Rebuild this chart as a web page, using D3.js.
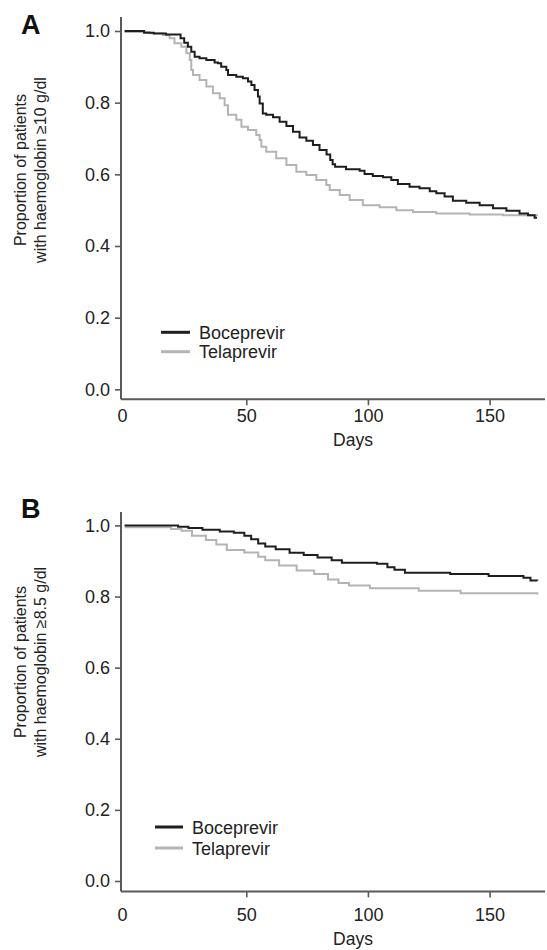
<!DOCTYPE html>
<html>
<head>
<meta charset="utf-8">
<script src="https://cdn.jsdelivr.net/npm/d3@7"></script>
<style>
  html, body { margin: 0; padding: 0; background: #fff; }
  svg { display: block; }
  text { font-family: "Liberation Sans", Arial, Helvetica, sans-serif; fill: #222; }
</style>
</head>
<body>
<svg id="chart" width="547" height="950"></svg>
<script>
// ---------- DATA ----------
const seriesNames = ["Boceprevir", "Telaprevir"];
const xTicks = [0, 50, 100, 150];
const yTicks = [0.0, 0.2, 0.4, 0.6, 0.8, 1.0];
const panelLabels = ["A", "B"];
const yTitlesLine1 = ["Proportion of patients", "Proportion of patients"];
const yTitlesLine2 = ["with haemoglobin \u226510 g/dl", "with haemoglobin \u22658.5 g/dl"];
const xTitle = "Days";

// Panel A: haemoglobin >= 10 g/dl
const daysA_boc = [0, 8, 12, 17, 23, 24.5, 26, 27.4, 28.8, 30.8, 33.6, 37, 38.4, 39.7, 41.8, 42.5, 45.9, 48.6, 50.7, 52.1, 53.4, 54.8, 55.5, 56.8, 58.2, 61, 63.7, 66.5, 69.2, 71.9, 74.7, 77.4, 80.1, 83, 84.5, 85.5, 86.5, 91, 96.6, 98.6, 102, 106.2, 109.6, 112.3, 117.1, 121.2, 125.4, 128.1, 131.5, 134.9, 140.4, 145.9, 151.4, 156.9, 162.3, 165.8, 168.5, 169.5];
const survA_boc = [1.0, 0.995, 0.993, 0.990, 0.980, 0.967, 0.956, 0.942, 0.928, 0.924, 0.919, 0.912, 0.910, 0.900, 0.891, 0.877, 0.872, 0.868, 0.859, 0.849, 0.835, 0.817, 0.798, 0.770, 0.766, 0.759, 0.747, 0.735, 0.719, 0.703, 0.694, 0.682, 0.668, 0.655, 0.640, 0.628, 0.621, 0.614, 0.610, 0.601, 0.595, 0.592, 0.584, 0.573, 0.565, 0.561, 0.553, 0.547, 0.538, 0.526, 0.521, 0.514, 0.505, 0.498, 0.491, 0.486, 0.479, 0.479];
const daysA_tel = [0, 10.3, 15.7, 18.5, 20.5, 23.3, 25.4, 26.8, 27.4, 28.1, 30.8, 33.6, 36.3, 39.1, 41.1, 42.5, 45.9, 48, 50.7, 54.1, 55.5, 56.2, 58.2, 62.3, 66.5, 70.6, 74.7, 78.8, 82.9, 84.3, 88.4, 92.5, 97.9, 104.8, 111.7, 118.5, 128.1, 141.8, 155.5, 169.5];
const survA_tel = [0.997, 0.994, 0.989, 0.980, 0.966, 0.956, 0.938, 0.919, 0.891, 0.877, 0.863, 0.845, 0.826, 0.812, 0.793, 0.766, 0.752, 0.733, 0.724, 0.710, 0.696, 0.677, 0.663, 0.645, 0.626, 0.607, 0.598, 0.584, 0.570, 0.556, 0.542, 0.528, 0.514, 0.508, 0.500, 0.495, 0.491, 0.488, 0.486, 0.484];

// Panel B: haemoglobin >= 8.5 g/dl
const daysB_boc = [0, 22, 26.2, 32, 39.1, 44.9, 49.2, 52, 54.9, 57.8, 62.1, 67.8, 73.6, 79.3, 85.1, 89.3, 103.7, 108, 110.9, 115.2, 133.8, 149.6, 163.9, 166.8, 169.6];
const survB_boc = [1.0, 0.996, 0.993, 0.988, 0.983, 0.979, 0.971, 0.961, 0.949, 0.941, 0.933, 0.923, 0.917, 0.910, 0.902, 0.895, 0.892, 0.882, 0.875, 0.867, 0.863, 0.858, 0.853, 0.845, 0.844];
const daysB_tel = [0, 19.1, 23.4, 27.7, 33.4, 37.7, 42, 49.2, 54.9, 57.8, 63.5, 70.7, 77.9, 83.6, 87.9, 92.2, 100.8, 120.9, 138.1, 169.6];
const survB_tel = [0.995, 0.990, 0.985, 0.971, 0.959, 0.946, 0.931, 0.924, 0.912, 0.902, 0.887, 0.873, 0.863, 0.848, 0.838, 0.831, 0.823, 0.816, 0.809, 0.806];

// ---------- LAYOUT / STYLE ----------
const colors = ["#1e1e1e", "#b4b4b4"];
const axisColor = "#5a5a5a";
const fontTick = 18, fontTitle = 16, fontLegend = 18, fontPanel = 27, fontDays = 17.5;

const panels = [
  { label: panelLabels[0], t1: yTitlesLine1[0], t2: yTitlesLine2[0],
    series: [[daysA_boc, survA_boc], [daysA_tel, survA_tel]],
    yTop: 31, yZero: 389.3, axisTop: 17, xAxisY: 399.3,
    xLabY: 422.5, daysY: 446, letterY: 34, titleC: 170,
    legY: [332.3, 351.7], legX0: 161, legX1: 190, legTX: 199 },
  { label: panelLabels[1], t1: yTitlesLine1[1], t2: yTitlesLine2[1],
    series: [[daysB_boc, survB_boc], [daysB_tel, survB_tel]],
    yTop: 525.4, yZero: 881, axisTop: 512, xAxisY: 891.4,
    xLabY: 921, daysY: 945, letterY: 518, titleC: 662,
    legY: [827, 848], legX0: 155, legX1: 183, legTX: 192 }
];

const svg = d3.select("#chart");
const xAxisX = 121, xRight = 545;
const x = d3.scaleLinear().domain([0, 150]).range([124.6, 489.6]);

panels.forEach(p => {
  const y = d3.scaleLinear().domain([0, 1]).range([p.yZero, p.yTop]);
  const g = svg.append("g");

  // panel letter
  g.append("text").attr("x", 21).attr("y", p.letterY)
    .attr("font-size", fontPanel).attr("font-weight", "bold").style("fill", "#111")
    .text(p.label);

  // y axis title
  const tg = g.append("g").attr("transform", `translate(0,${p.titleC}) rotate(-90)`);
  tg.append("text").attr("x", 0).attr("y", 26).attr("text-anchor", "middle")
    .attr("font-size", fontTitle).text(p.t1);
  tg.append("text").attr("x", 0).attr("y", 46).attr("text-anchor", "middle")
    .attr("font-size", fontTitle).text(p.t2);

  // y axis
  const ya = g.append("g").attr("transform", `translate(${xAxisX},0)`)
    .call(d3.axisLeft(y).tickValues(yTicks).tickFormat(d3.format(".1f")).tickSize(6).tickPadding(5));
  ya.select(".domain").remove();
  ya.selectAll(".tick line").attr("stroke", axisColor).attr("stroke-width", 1.6);
  ya.selectAll(".tick text").attr("font-size", fontTick).attr("font-family", null).style("fill", "#222");
  g.append("line").attr("x1", xAxisX).attr("x2", xAxisX).attr("y1", p.axisTop).attr("y2", p.xAxisY)
    .attr("stroke", axisColor).attr("stroke-width", 2);

  // x axis
  const xa = g.append("g").attr("transform", `translate(0,${p.xAxisY})`)
    .call(d3.axisBottom(x).tickValues(xTicks).tickSize(6).tickFormat(d3.format("d")));
  xa.select(".domain").remove();
  xa.selectAll(".tick line").attr("stroke", axisColor).attr("stroke-width", 1.6)
    .attr("opacity", d => d === 0 ? 0 : 1);
  xa.selectAll(".tick text").attr("font-size", fontTick).attr("font-family", null)
    .attr("dy", null).attr("y", p.xLabY - p.xAxisY).style("fill", "#222")
    .attr("transform", d => d === 0 ? "translate(-2.5,0)" : null);
  g.append("line").attr("x1", xAxisX).attr("x2", xRight).attr("y1", p.xAxisY).attr("y2", p.xAxisY)
    .attr("stroke", axisColor).attr("stroke-width", 2);

  g.append("text").attr("x", 353).attr("y", p.daysY).attr("text-anchor", "middle")
    .attr("font-size", fontDays).text(xTitle);

  // curves (Telaprevir drawn first, Boceprevir on top)
  const line = d3.line().x(d => x(d[0])).y(d => y(d[1])).curve(d3.curveStepAfter);
  [1, 0].forEach(i => {
    const [ds, vs] = p.series[i];
    const pts = ds.map((d, k) => [d, vs[k]]);
    g.append("path").datum(pts).attr("d", line)
      .attr("fill", "none").attr("stroke", colors[i]).attr("stroke-width", 2);
  });

  // legend
  seriesNames.forEach((name, i) => {
    g.append("line").attr("x1", p.legX0).attr("x2", p.legX1)
      .attr("y1", p.legY[i]).attr("y2", p.legY[i])
      .attr("stroke", colors[i]).attr("stroke-width", 3);
    g.append("text").attr("x", p.legTX).attr("y", p.legY[i] + 6.5)
      .attr("font-size", fontLegend).text(name);
  });
});
</script>
</body>
</html>
